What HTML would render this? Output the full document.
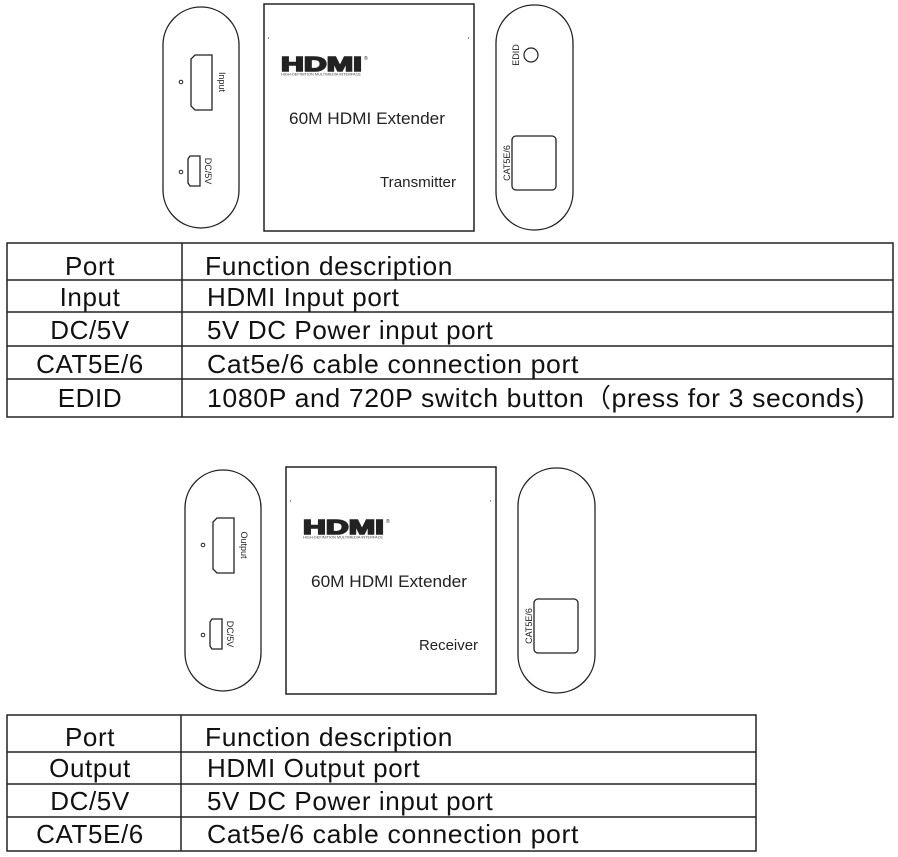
<!DOCTYPE html>
<html><head><meta charset="utf-8"><style>
html,body{margin:0;padding:0;background:#fff;}
svg{display:block;font-family:"Liberation Sans",sans-serif;}
</style></head><body>
<svg width="898" height="857" viewBox="0 0 898 857" xmlns="http://www.w3.org/2000/svg">
<defs>
<g id="lp">
  <rect x="163" y="7" width="76" height="221" rx="38" fill="none" stroke="#222" stroke-width="1.3"/>
  <path d="M195,55 H212 V110 H195 L191,106 V59 Z" fill="none" stroke="#222" stroke-width="1.3"/>
  <circle cx="181" cy="82" r="1.8" fill="none" stroke="#222"/>
  <path d="M190,156 H200 V186 H190 L188,183 V159 Z" fill="none" stroke="#222" stroke-width="1.3"/>
  <circle cx="181" cy="172" r="1.8" fill="none" stroke="#222"/>
</g>
<g id="box">
  <rect x="264" y="4" width="210" height="227" fill="none" stroke="#222" stroke-width="1.5"/>
  <line x1="268" y1="38" x2="269" y2="38" stroke="#222"/>
  <line x1="468" y1="38" x2="469" y2="38" stroke="#222"/>
  <text x="281" y="71" font-size="20" font-weight="bold" stroke="#222" stroke-width="1.6" textLength="81" lengthAdjust="spacingAndGlyphs" fill="#222">HDMI</text>
  <text x="364" y="60" font-size="5" fill="#222">®</text>
  <text x="281" y="75.5" font-size="3.5" textLength="80" lengthAdjust="spacingAndGlyphs" fill="#444">HIGH-DEFINITION MULTIMEDIA INTERFACE</text>
  <text x="367" y="124" font-size="16.5" text-anchor="middle" fill="#222" textLength="156" lengthAdjust="spacingAndGlyphs">60M HDMI Extender</text>
</g>
<g id="rp">
  <rect x="496" y="5" width="77" height="225" rx="38" fill="none" stroke="#222" stroke-width="1.3"/>
  <rect x="512" y="136" width="44" height="54" rx="4" fill="none" stroke="#222" stroke-width="1.3"/>
  <text transform="translate(510,163) rotate(-90)" font-size="9" text-anchor="middle" fill="#222">CAT5E/6</text>
</g>
</defs>
<use href="#lp"/>
<text transform="translate(219,82) rotate(90)" font-size="9" text-anchor="middle" fill="#222">Input</text>
<text transform="translate(205,171) rotate(90)" font-size="9" text-anchor="middle" fill="#222">DC/5V</text>
<use href="#box"/>
<text x="380" y="187" font-size="15" fill="#222" textLength="76" lengthAdjust="spacingAndGlyphs">Transmitter</text>
<use href="#rp"/>
<text transform="translate(519,55) rotate(-90)" font-size="9" text-anchor="middle" fill="#222">EDID</text>
<circle cx="531" cy="55" r="7" fill="none" stroke="#222" stroke-width="1.2"/>

<g transform="translate(22,463)">
<use href="#lp"/>
<text transform="translate(219,82) rotate(90)" font-size="9" text-anchor="middle" fill="#222">Output</text>
<text transform="translate(205,171) rotate(90)" font-size="9" text-anchor="middle" fill="#222">DC/5V</text>
<use href="#box"/>
<text x="397" y="187" font-size="15" fill="#222" textLength="59" lengthAdjust="spacingAndGlyphs">Receiver</text>
<use href="#rp"/>
</g>

<g stroke="#222" stroke-width="1.5" fill="none">
<rect x="7" y="243" width="886" height="174"/>
<line x1="182" y1="243" x2="182" y2="417"/>
<line x1="7" y1="280" x2="893" y2="280"/>
<line x1="7" y1="312" x2="893" y2="312"/>
<line x1="7" y1="346" x2="893" y2="346"/>
<line x1="7" y1="379" x2="893" y2="379"/>
<rect x="7" y="715" width="749" height="136"/>
<line x1="181" y1="715" x2="181" y2="851"/>
<line x1="7" y1="752" x2="756" y2="752"/>
<line x1="7" y1="784" x2="756" y2="784"/>
<line x1="7" y1="817" x2="756" y2="817"/>
</g>
<g font-size="26" fill="#111" letter-spacing="0.6">
<g text-anchor="middle">
<text x="90" y="275">Port</text>
<text x="90" y="306">Input</text>
<text x="90" y="339">DC/5V</text>
<text x="90" y="373">CAT5E/6</text>
<text x="90" y="407">EDID</text>
<text x="90" y="746">Port</text>
<text x="90" y="777">Output</text>
<text x="90" y="810">DC/5V</text>
<text x="90" y="843">CAT5E/6</text>
</g>
<text x="205" y="275" textLength="248" lengthAdjust="spacingAndGlyphs">Function description</text>
<text x="207" y="306">HDMI Input port</text>
<text x="207" y="339">5V DC Power input port</text>
<text x="207" y="373" textLength="372" lengthAdjust="spacingAndGlyphs">Cat5e/6 cable connection port</text>
<text x="207" y="407" textLength="658" lengthAdjust="spacingAndGlyphs">1080P and 720P switch button（press for 3 seconds)</text>
<text x="205" y="746" textLength="248" lengthAdjust="spacingAndGlyphs">Function description</text>
<text x="207" y="777">HDMI Output port</text>
<text x="207" y="810">5V DC Power input port</text>
<text x="207" y="843" textLength="372" lengthAdjust="spacingAndGlyphs">Cat5e/6 cable connection port</text>
</g>
</svg>
</body></html>
